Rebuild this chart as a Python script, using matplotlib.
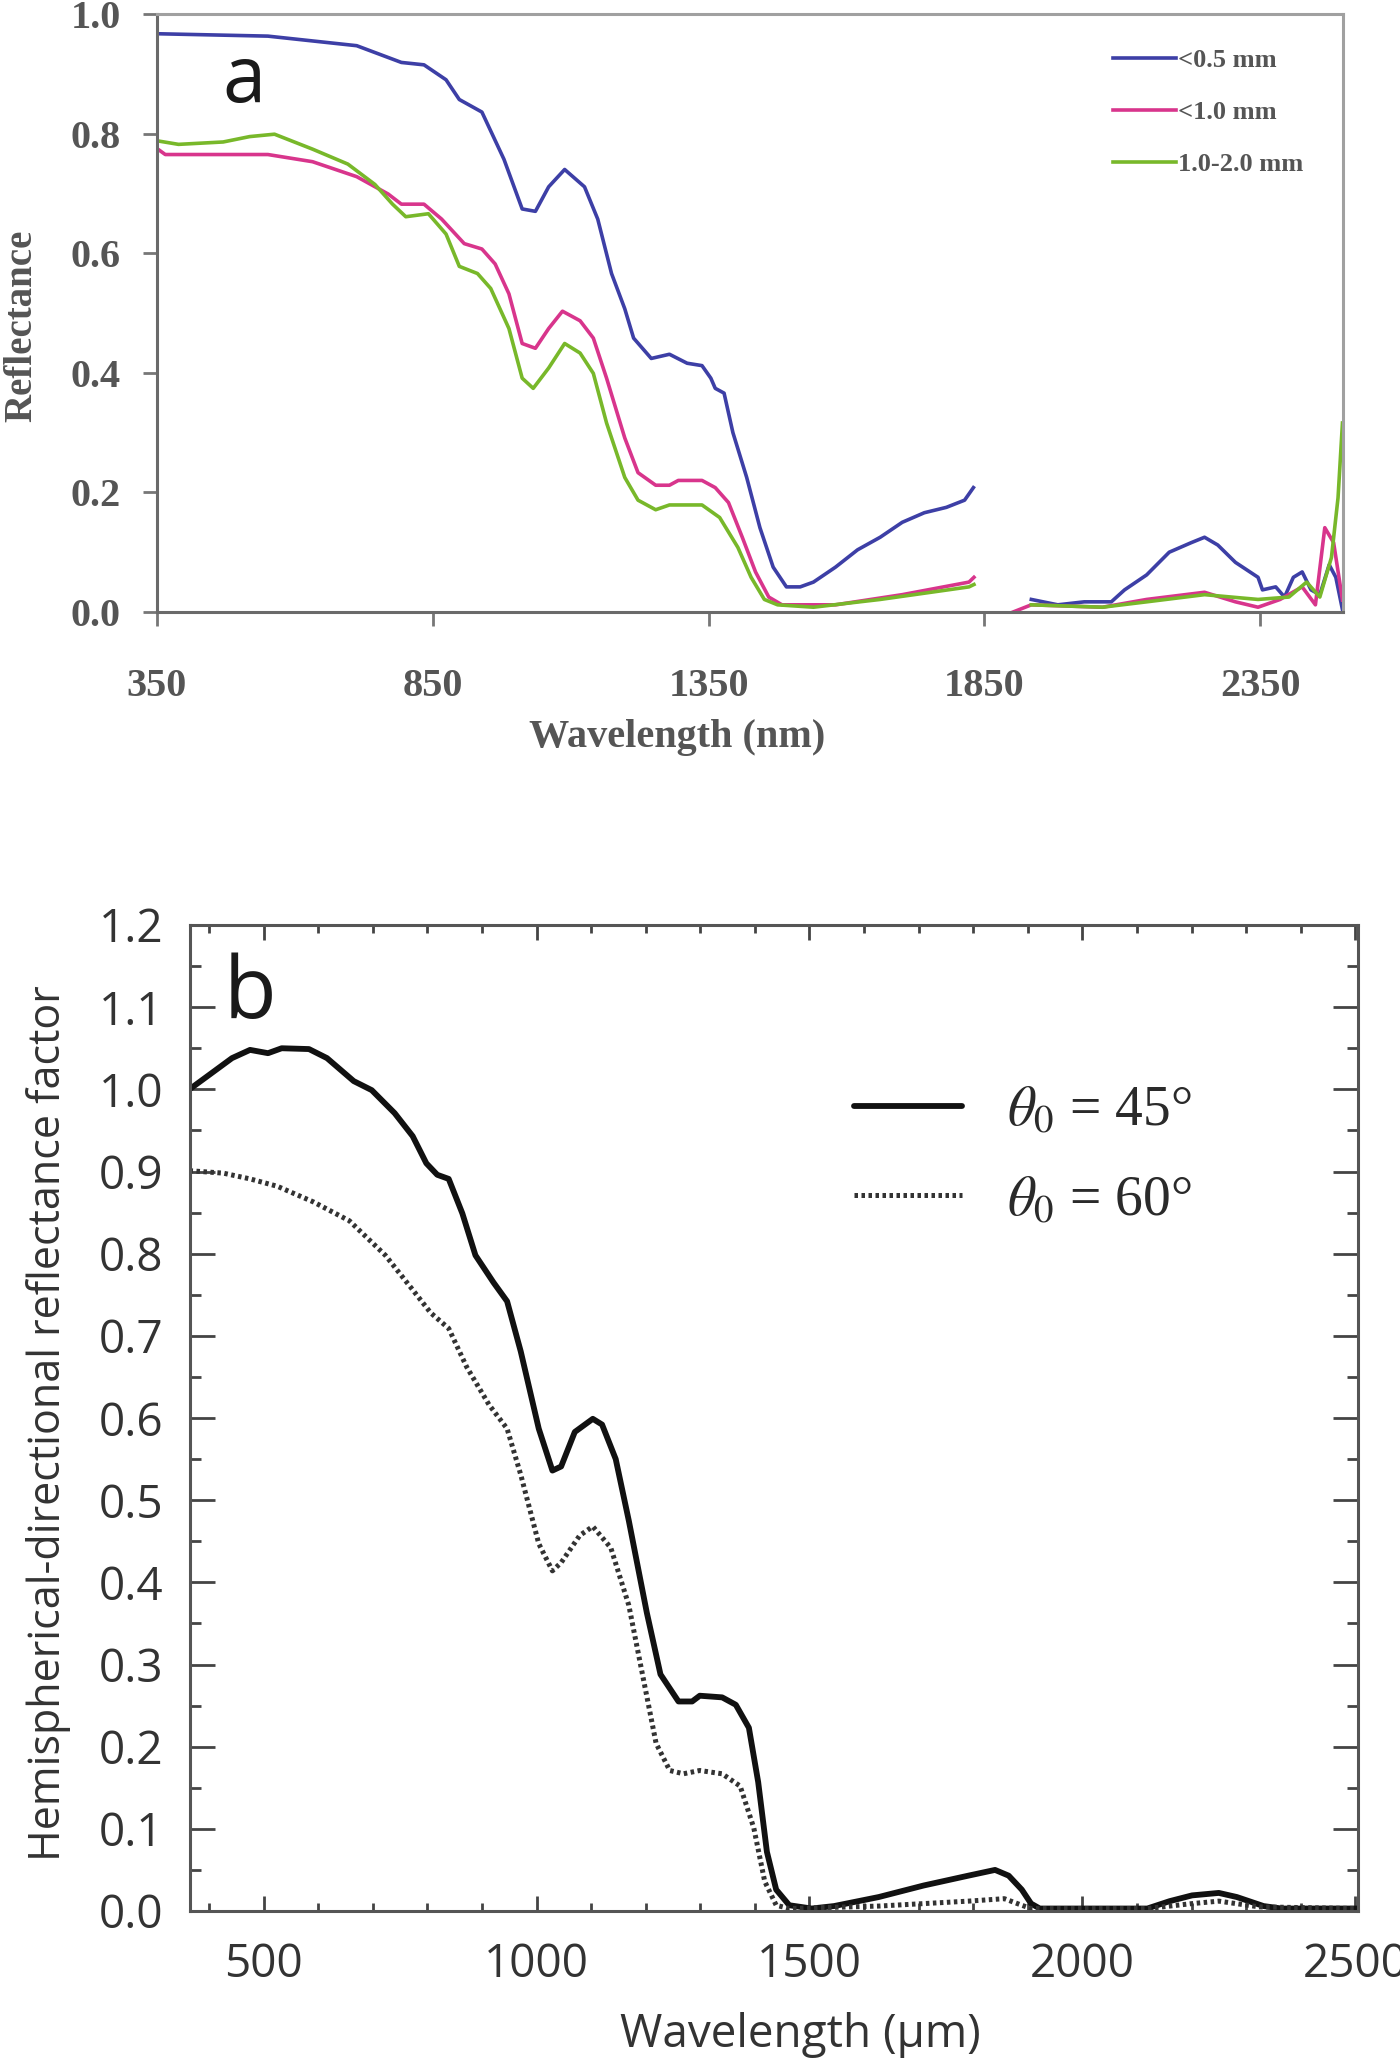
import numpy as np
import matplotlib
matplotlib.use("Agg")
import matplotlib.pyplot as plt
from matplotlib.ticker import MultipleLocator, FixedLocator

plt.rcParams['mathtext.fontset'] = 'stix'

# ---------------- Panel a data ----------------
a_xticks = [350, 850, 1350, 1850, 2350]
a_yticks = [0.0, 0.2, 0.4, 0.6, 0.8, 1.0]
a_labels = ["<0.5 mm", "<1.0 mm", "1.0-2.0 mm"]
a_colors = ["#3d3fa6", "#d8358c", "#78b82a"]

blue1_w = [350, 551, 712, 793, 834, 874, 898, 939, 979, 1012, 1036, 1060, 1089, 1125, 1149, 1174, 1198,
           1214, 1246, 1279, 1311, 1338, 1354, 1362, 1378, 1394, 1419, 1443, 1467, 1491, 1516, 1540, 1580,
           1620, 1661, 1701, 1741, 1781, 1814, 1830]
blue1_r = [0.967, 0.963, 0.947, 0.919, 0.915, 0.890, 0.857, 0.836, 0.757, 0.674, 0.670, 0.711, 0.740, 0.711,
           0.657, 0.566, 0.507, 0.458, 0.424, 0.431, 0.416, 0.412, 0.391, 0.374, 0.366, 0.300, 0.225, 0.141,
           0.075, 0.042, 0.042, 0.050, 0.075, 0.104, 0.125, 0.150, 0.166, 0.175, 0.187, 0.208]
blue2_w = [1935, 1983, 2031, 2080, 2104, 2144, 2185, 2225, 2249, 2273, 2305, 2346, 2354, 2378, 2394, 2410,
           2426, 2442, 2458, 2475, 2487, 2499]
blue2_r = [0.021, 0.012, 0.017, 0.017, 0.037, 0.062, 0.100, 0.116, 0.125, 0.112, 0.083, 0.058, 0.037, 0.042,
           0.025, 0.058, 0.067, 0.037, 0.029, 0.079, 0.058, 0.004]

pink1_w = [350, 365, 551, 632, 712, 769, 793, 834, 866, 907, 939, 963, 988, 1012, 1036, 1060, 1085, 1117,
           1141, 1165, 1198, 1222, 1254, 1279, 1295, 1338, 1362, 1386, 1411, 1435, 1459, 1483, 1580, 1701,
           1822, 1831]
pink1_r = [0.775, 0.765, 0.765, 0.753, 0.728, 0.699, 0.682, 0.682, 0.657, 0.616, 0.607, 0.582, 0.532, 0.449,
           0.441, 0.474, 0.503, 0.487, 0.458, 0.391, 0.291, 0.233, 0.212, 0.212, 0.220, 0.220, 0.208, 0.183,
           0.125, 0.067, 0.025, 0.012, 0.012, 0.029, 0.050, 0.058]
pink2_w = [1902, 1935, 2064, 2144, 2249, 2305, 2346, 2386, 2426, 2450, 2467, 2483, 2499]
pink2_r = [0.000, 0.012, 0.008, 0.021, 0.033, 0.017, 0.008, 0.021, 0.042, 0.012, 0.141, 0.116, 0.020]

green1_w = [350, 389, 470, 518, 563, 632, 696, 745, 777, 801, 842, 874, 898, 931, 955, 988, 1012, 1032,
            1060, 1089, 1117, 1141, 1165, 1198, 1222, 1254, 1279, 1311, 1338, 1370, 1403, 1427, 1451, 1475,
            1540, 1661, 1822, 1831]
green1_r = [0.788, 0.782, 0.786, 0.795, 0.799, 0.774, 0.749, 0.715, 0.682, 0.661, 0.666, 0.632, 0.578, 0.566,
            0.541, 0.474, 0.391, 0.374, 0.408, 0.449, 0.433, 0.399, 0.316, 0.225, 0.187, 0.171, 0.179, 0.179,
            0.179, 0.158, 0.108, 0.058, 0.021, 0.012, 0.008, 0.021, 0.042, 0.046]
green2_w = [1935, 2064, 2144, 2249, 2346, 2402, 2434, 2458, 2479, 2491, 2499]
green2_r = [0.012, 0.008, 0.017, 0.029, 0.021, 0.025, 0.050, 0.025, 0.091, 0.191, 0.316]

# ---------------- Panel b data ----------------
b_labels = [r"$\theta_{\mathrm{0}}$ = 45°", r"$\theta_{\mathrm{0}}$ = 60°"]
b_xticks = [500, 1000, 1500, 2000, 2500]

s45_w = [364, 401, 442, 475, 508, 533, 583, 616, 665, 698, 740, 773, 798, 818, 839, 864, 888, 921, 946,
         971, 1004, 1029, 1045, 1070, 1103, 1120, 1145, 1169, 1202, 1227, 1260, 1285, 1299, 1340, 1365,
         1389, 1406, 1422, 1439, 1463, 1504, 1545, 1627, 1709, 1791, 1840, 1865, 1889, 1906, 1922, 2119,
         2160, 2201, 2250, 2283, 2332, 2365, 2508]
s45_r = [1.000, 1.018, 1.038, 1.048, 1.044, 1.050, 1.049, 1.038, 1.010, 0.999, 0.971, 0.943, 0.910, 0.896,
         0.891, 0.849, 0.798, 0.765, 0.742, 0.681, 0.587, 0.536, 0.541, 0.583, 0.599, 0.592, 0.550, 0.475,
         0.363, 0.288, 0.255, 0.255, 0.262, 0.260, 0.251, 0.223, 0.157, 0.072, 0.026, 0.007, 0.003, 0.006,
         0.017, 0.031, 0.043, 0.050, 0.043, 0.026, 0.009, 0.003, 0.003, 0.012, 0.019, 0.022, 0.017, 0.006,
         0.003, 0.003]

s60_w = [364, 426, 475, 525, 591, 657, 723, 773, 806, 839, 872, 913, 946, 971, 1004, 1029, 1045, 1079,
         1103, 1136, 1169, 1194, 1219, 1244, 1269, 1299, 1340, 1373, 1398, 1418, 1439, 1463, 1627, 1791,
         1857, 1889, 1906, 2119, 2201, 2250, 2324, 2508]
s60_r = [0.901, 0.898, 0.891, 0.882, 0.863, 0.840, 0.798, 0.756, 0.728, 0.709, 0.662, 0.616, 0.587, 0.531,
         0.447, 0.414, 0.424, 0.457, 0.468, 0.442, 0.372, 0.288, 0.204, 0.171, 0.167, 0.171, 0.167, 0.152,
         0.101, 0.036, 0.007, 0.003, 0.006, 0.012, 0.015, 0.007, 0.003, 0.003, 0.009, 0.012, 0.005, 0.003]

# ---------------- Figure ----------------
W, H = 1400, 2065
fig = plt.figure(figsize=(W / 100, H / 100), dpi=100)

serif = ["Liberation Serif", "DejaVu Serif"]
sans = ["Open Sans", "DejaVu Sans"]

# ===== Panel a =====
axa = fig.add_axes([157 / W, 1 - 612 / H, 1186 / W, 598 / H])
segs = [(blue1_w, blue1_r, blue2_w, blue2_r),
        (pink1_w, pink1_r, pink2_w, pink2_r),
        (green1_w, green1_r, green2_w, green2_r)]
for (w1, r1, w2, r2), c, lab in zip(segs, a_colors, a_labels):
    axa.plot(w1, r1, color=c, lw=2.6, label=lab, solid_joinstyle='round')
    axa.plot(w2, r2, color=c, lw=2.6, solid_joinstyle='round')
axa.set_xlim(350, 2500)
axa.set_ylim(0, 1.0)
axa.xaxis.set_major_locator(FixedLocator(a_xticks))
axa.yaxis.set_major_locator(FixedLocator(a_yticks))
axa.set_xticklabels([str(v) for v in a_xticks])
axa.set_yticklabels([f"{v:.1f}" for v in a_yticks])
axa.tick_params(axis='both', direction='out', color='#777777', width=2, labelcolor='#555555')
axa.tick_params(axis='y', length=10, pad=16)
axa.tick_params(axis='x', length=10, pad=30)
for t in axa.get_xticklabels() + axa.get_yticklabels():
    t.set_fontfamily(serif)
    t.set_fontweight('bold')
    t.set_fontsize(29)
for s in ['left', 'bottom']:
    axa.spines[s].set_color('#6a6a6a')
    axa.spines[s].set_linewidth(2.2)
for s in ['top', 'right']:
    axa.spines[s].set_color('#a0a0a0')
    axa.spines[s].set_linewidth(2.2)

axa.set_xlabel("Wavelength (nm)", family=serif, weight='bold', fontsize=29, color='#555555', va='center')
axa.xaxis.set_label_coords((677 - 157) / 1186, (612 - 738) / 598)
axa.set_ylabel("Reflectance", family=serif, weight='bold', fontsize=28, color='#555555', va='center')
axa.yaxis.set_label_coords((22 - 157) / 1186, (612 - 326) / 598)

axa.text(0.055, 0.853, "a", transform=axa.transAxes, family=sans, fontsize=56,
         color='#1a1a1a', ha='left', va='baseline')

lega = axa.legend(loc='upper left', bbox_to_anchor=((1113 - 157) / 1186, 1 - (49 - 14) / 598),
                  frameon=False, handlelength=2.4, handletextpad=0.05, labelspacing=1.08,
                  borderaxespad=0, borderpad=0,
                  prop={'family': serif, 'weight': 'bold', 'size': 19})
for t in lega.get_texts():
    t.set_color('#555555')

# ===== Panel b =====
axb = fig.add_axes([190 / W, 1 - 1911 / H, 1168 / W, 986 / H])
axb.plot(s45_w, s45_r, color='#111111', lw=4.2, label=b_labels[0], solid_joinstyle='round',
         solid_capstyle='round')
axb.plot(s60_w, s60_r, color='#333333', lw=3.6, linestyle=(0, (0.7, 0.7)), label=b_labels[1])
axb.set_xlim(365, 2505)
axb.set_ylim(0, 1.2)
axb.xaxis.set_major_locator(FixedLocator(b_xticks))
axb.xaxis.set_minor_locator(MultipleLocator(100))
axb.yaxis.set_major_locator(MultipleLocator(0.1))
axb.yaxis.set_minor_locator(MultipleLocator(0.05))
axb.yaxis.set_major_formatter(matplotlib.ticker.FormatStrFormatter('%.1f'))
axb.tick_params(which='both', direction='in', top=True, right=True, color='#444444', width=2,
                labelcolor='#333333')
axb.tick_params(axis='y', which='major', length=18, pad=19)
axb.tick_params(axis='y', which='minor', length=8)
axb.tick_params(axis='x', which='major', length=11, pad=22)
axb.tick_params(axis='x', which='minor', length=6)
for t in axb.get_xticklabels() + axb.get_yticklabels():
    t.set_fontfamily(sans)
    t.set_fontsize(33)
for s in axb.spines.values():
    s.set_color('#555555')
    s.set_linewidth(2.2)

axb.set_xlabel("Wavelength (μm)", family=sans, fontsize=33, color='#333333', va='center')
axb.xaxis.set_label_coords((800 - 190) / 1168, (1911 - 2035) / 986)
axb.set_ylabel("Hemispherical-directional reflectance factor", family=sans, fontsize=31,
               color='#333333', va='center')
axb.yaxis.set_label_coords((49 - 190) / 1168, (1911 - 1423) / 986)

axb.text((224 - 190) / 1168, (1911 - 1018) / 986, "b", transform=axb.transAxes, family=sans,
         fontsize=62, color='#1a1a1a', ha='left', va='baseline')

legb = axb.legend(loc='upper left', bbox_to_anchor=((854 - 190) / 1168, (1911 - 1085) / 986),
                  frameon=False, handlelength=1.95, handletextpad=0.8, labelspacing=0.68,
                  borderaxespad=0, borderpad=0,
                  prop={'family': serif, 'size': 40})
for t in legb.get_texts():
    t.set_color('#2a2a2a')

fig.savefig("out.png", dpi=100, facecolor='white')
